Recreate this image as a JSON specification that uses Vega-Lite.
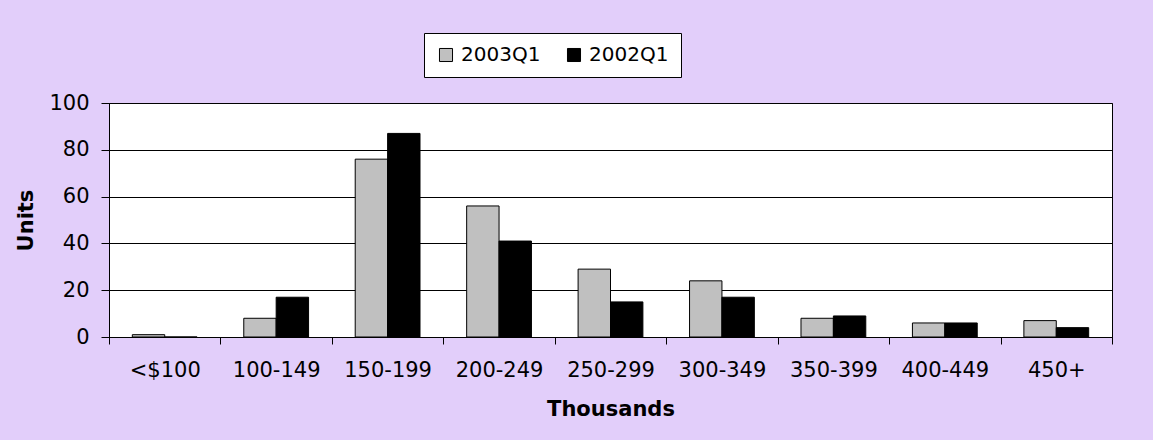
{
  "$schema": "https://vega.github.io/schema/vega-lite/v6.json",
  "width": 1003,
  "height": 234,
  "autosize": {"type": "none"},
  "padding": {"left": 109, "top": 103, "right": 41, "bottom": 103},
  "background": "#e2cefa",
  "config": {
    "view": {"fill": "white", "stroke": "black", "strokeWidth": 1},
    "font": "DejaVu Sans"
  },
  "data": {
    "values": [
      {"range": "<$100", "quarter": "2003Q1", "units": 1},
      {"range": "<$100", "quarter": "2002Q1", "units": 0},
      {"range": "100-149", "quarter": "2003Q1", "units": 8},
      {"range": "100-149", "quarter": "2002Q1", "units": 17},
      {"range": "150-199", "quarter": "2003Q1", "units": 76},
      {"range": "150-199", "quarter": "2002Q1", "units": 87},
      {"range": "200-249", "quarter": "2003Q1", "units": 56},
      {"range": "200-249", "quarter": "2002Q1", "units": 41},
      {"range": "250-299", "quarter": "2003Q1", "units": 29},
      {"range": "250-299", "quarter": "2002Q1", "units": 15},
      {"range": "300-349", "quarter": "2003Q1", "units": 24},
      {"range": "300-349", "quarter": "2002Q1", "units": 17},
      {"range": "350-399", "quarter": "2003Q1", "units": 8},
      {"range": "350-399", "quarter": "2002Q1", "units": 9},
      {"range": "400-449", "quarter": "2003Q1", "units": 6},
      {"range": "400-449", "quarter": "2002Q1", "units": 6},
      {"range": "450+", "quarter": "2003Q1", "units": 7},
      {"range": "450+", "quarter": "2002Q1", "units": 4}
    ]
  },
  "mark": {"type": "bar", "stroke": "black", "strokeWidth": 1},
  "encoding": {
    "x": {
      "field": "range",
      "type": "nominal",
      "sort": ["<$100", "100-149", "150-199", "200-249", "250-299", "300-349", "350-399", "400-449", "450+"],
      "scale": {"paddingInner": 0, "paddingOuter": 0},
      "axis": {
        "title": "Thousands",
        "labelAngle": 0,
        "tickBand": "extent",
        "tickSize": 7,
        "tickColor": "black",
        "domainColor": "black",
        "labelFontSize": 21,
        "labelColor": "black",
        "labelPadding": 15,
        "titleFontSize": 21,
        "titleFontWeight": "bold",
        "titleColor": "black",
        "titlePadding": 18
      }
    },
    "y": {
      "field": "units",
      "type": "quantitative",
      "scale": {"domain": [0, 100]},
      "axis": {
        "title": "Units",
        "values": [0, 20, 40, 60, 80, 100],
        "gridColor": "black",
        "gridOpacity": 1,
        "tickColor": "black",
        "tickSize": 8,
        "domainColor": "black",
        "labelFontSize": 21,
        "labelColor": "black",
        "labelPadding": 12,
        "titleFontSize": 21,
        "titleFontWeight": "bold",
        "titleColor": "black",
        "titlePadding": 12
      }
    },
    "xOffset": {
      "field": "quarter",
      "sort": ["2003Q1", "2002Q1"],
      "scale": {"paddingInner": 0, "paddingOuter": 0.72}
    },
    "color": {
      "field": "quarter",
      "type": "nominal",
      "sort": ["2003Q1", "2002Q1"],
      "scale": {"domain": ["2003Q1", "2002Q1"], "range": ["#c0c0c0", "#000000"]},
      "legend": {
        "orient": "none",
        "legendX": 315,
        "legendY": -70,
        "direction": "horizontal",
        "title": null,
        "fillColor": "white",
        "strokeColor": "black",
        "padding": 12,
        "symbolType": "square",
        "symbolSize": 170,
        "symbolStrokeColor": "black",
        "symbolStrokeWidth": 1,
        "symbolOpacity": 1,
        "labelFontSize": 20,
        "labelColor": "black",
        "labelOffset": 5,
        "columnPadding": 23
      }
    }
  }
}
